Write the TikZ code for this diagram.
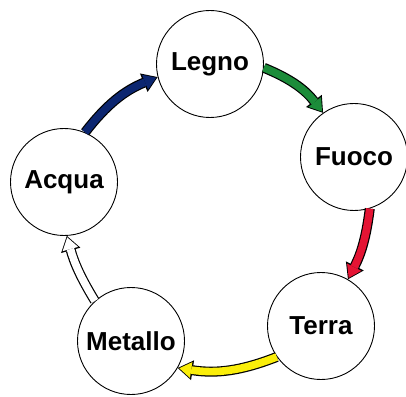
\documentclass[tikz,border=0pt]{standalone}
\usepackage{fontspec}
\setmainfont{Liberation Sans}
\usetikzlibrary{arrows.meta}

\definecolor{acquablue}{RGB}{12,38,112}
\definecolor{legnogreen}{RGB}{28,140,58}
\definecolor{fuocored}{RGB}{228,20,52}
\definecolor{terrayellow}{RGB}{250,238,10}

\tikzset{
	element/.style={circle, draw=black, line width=0.9pt, fill=white, minimum size=107pt, inner sep=0pt, font=\fontsize{26}{30}\selectfont\bfseries},
	flowedge/.style={line width=10pt, draw=black, -{Triangle[length=15pt,width=20pt,line width=0pt]}},
	flowfill/.style={line width=7.6pt, draw=#1, -{Triangle[length=12pt,width=16pt,line width=0pt]}, shorten >=1.6pt}
}

\begin{document}
\begin{tikzpicture}[x=1pt, y=1pt]
			%%%%% START %%%%%
			\useasboundingbox (0, 0) rectangle (406, 396);
			
			% the five elements
			\node[element] (legno) at (210, 332) {Legno};
			\node[element] (fuoco) at (354, 239) {Fuoco};
			\node[element] (terra) at (321, 70) {Terra};
			\node[element] (metallo) at (131, 55) {Metallo};
			\node[element] (acqua) at (64, 214) {Acqua};
			
			% acqua -> legno
			\draw[flowedge] (acqua.67) to[bend left=15] (legno.194);
			\draw[flowfill=acquablue] (acqua.67) to[bend left=15] (legno.194);
			
			% legno -> fuoco
			\draw[flowedge] (legno.-4) to[bend left=15] (fuoco.125);
			\draw[flowfill=legnogreen] (legno.-4) to[bend left=15] (fuoco.125);
			
			% fuoco -> terra
			\draw[flowedge] (fuoco.-73) to[bend left=10] (terra.60);
			\draw[flowfill=fuocored] (fuoco.-73) to[bend left=10] (terra.60);
			
			% terra -> metallo
			\draw[flowedge] (terra.215) to[bend left=15] (metallo.-30);
			\draw[flowfill=terrayellow] (terra.215) to[bend left=15] (metallo.-30);
			
			% metallo -> acqua
			\draw[flowedge] (metallo.132) to[bend left=8] (acqua.273);
			\draw[flowfill=white] (metallo.132) to[bend left=8] (acqua.273);
			
			%%%%% END %%%%%
\end{tikzpicture}
\end{document}
